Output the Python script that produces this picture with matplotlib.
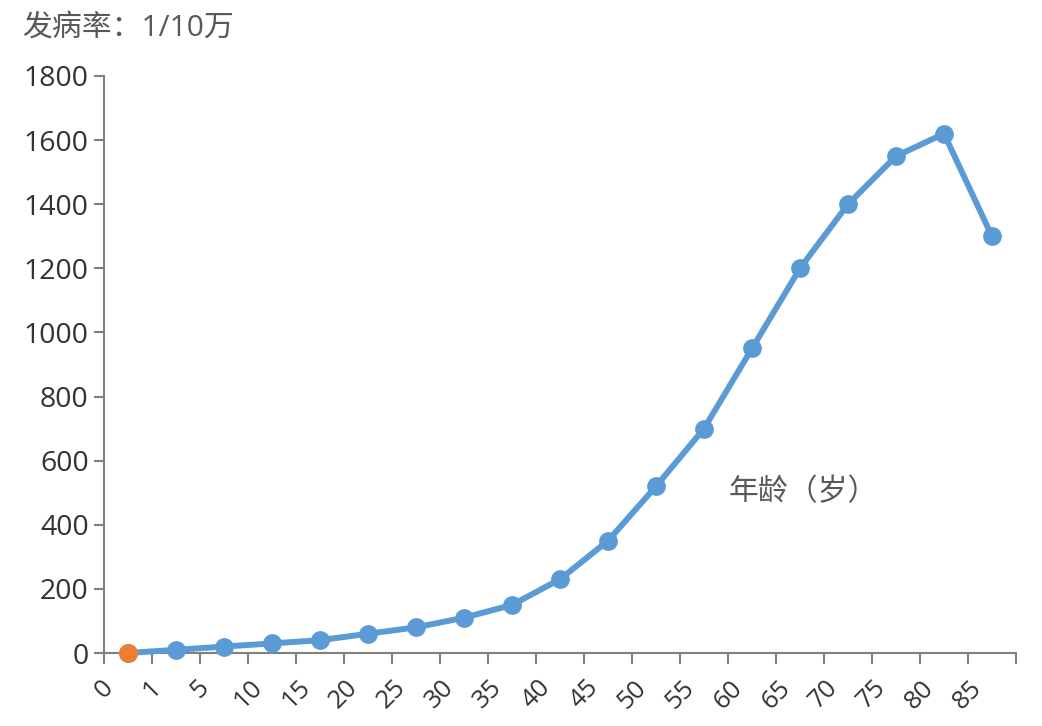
import matplotlib
matplotlib.use("Agg")
import matplotlib.pyplot as plt
import numpy as np

plt.rcParams['font.family'] = ['Open Sans', 'Noto Sans CJK SC', 'DejaVu Sans']

# age groups (label at left edge of each bin) and incidence per 100k
age_labels = ["0", "1", "5", "10", "15", "20", "25", "30", "35", "40",
              "45", "50", "55", "60", "65", "70", "75", "80", "85"]
incidence = [0, 10, 20, 30, 40, 60, 80, 110, 150, 230,
             350, 520, 700, 950, 1200, 1400, 1550, 1620, 1300]

blue = "#5B9BD5"
orange = "#ED7D31"
grey = "#7F7F7F"
txt = "#333333"

fig = plt.figure(figsize=(10.42, 7.26), dpi=100)
ax = fig.add_axes([104 / 1042, 1 - 653 / 726, (1016 - 104) / 1042, (653 - 76) / 726])

n = len(age_labels)
x = np.arange(n) + 0.5
ax.plot(x, incidence, color=blue, linewidth=4.3, marker="o", markersize=12.5,
        solid_joinstyle="round", zorder=3, clip_on=False)
ax.plot(x[0], incidence[0], "o", color=orange, markersize=12.5, zorder=4, clip_on=False)

ax.set_xlim(0, n)
ax.set_ylim(0, 1800)
ax.set_yticks(np.arange(0, 1801, 200))
ax.set_xticks(np.arange(n + 1))
ax.set_xticklabels(age_labels + [""], rotation=45, ha="center", va="top",
                   fontsize=18.5, color=txt)
ax.tick_params(axis="y", labelsize=20.5, labelcolor=txt, color=grey,
               length=7, width=1.5, direction="out", pad=4)
ax.tick_params(axis="x", color=grey, length=8, width=1.5, direction="out", pad=8)

for s in ["top", "right"]:
    ax.spines[s].set_visible(False)
for s in ["left", "bottom"]:
    ax.spines[s].set_color(grey)
    ax.spines[s].set_linewidth(1.5)

fig.text(22 / 1042, 1 - 28 / 726, "发病率：1/10万", fontsize=21.5, color="#595959",
         ha="left", va="center")
fig.text(803 / 1042, 1 - 493 / 726, "年龄（岁）", fontsize=21.5, color="#595959",
         ha="center", va="center")

fig.savefig("out.png", dpi=100)
